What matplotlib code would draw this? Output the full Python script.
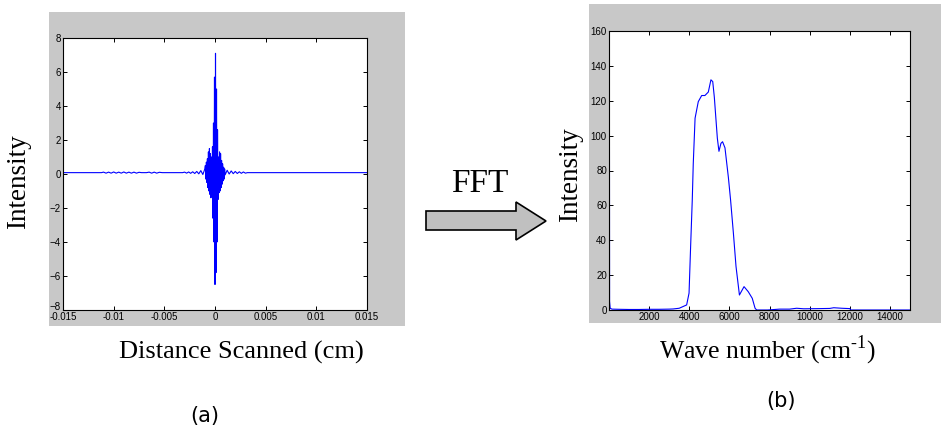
import numpy as np
import matplotlib.pyplot as plt
from matplotlib.patches import Rectangle, Polygon

# interferogram, x in units of 1e-4 cm
scan_x = [-150, -112,
          -110, -107.5, -105, -102.5, -100, -97.5, -95, -92.5, -90, -87.5, -85, -82.5,
          -80, -77.5, -75, -72.5, -70, -67.5, -65, -62.5, -60, -57.5, -55,
          -52, -32,
          -30, -28, -26, -24, -22, -20, -18, -16, -14, -12, -10,
          -9.5, -9.0, -8.5, -8.0, -7.5, -7.0, -6.5, -6.0, -5.5, -5.0, -4.5, -4.0, -3.5,
          -3.0, -2.5, -2.0, -1.5, -1.0, -0.5, 0.0, 0.5, 1.0, 1.5, 2.0, 2.5, 3.0, 3.5,
          4.0, 4.5, 5.0, 5.5, 6.0, 6.5, 7.0, 7.5, 8.0, 8.5, 9.0, 9.5,
          10, 12, 14, 16, 18, 20, 22, 24, 26, 28, 30,
          32, 150]
scan_y = [0.08, 0.08,
          0.11, 0.05, 0.11, 0.05, 0.12, 0.05, 0.11, 0.05, 0.12, 0.05, 0.11, 0.05,
          0.11, 0.05, 0.10, 0.08, 0.08, 0.08, 0.11, 0.05, 0.11, 0.05, 0.10,
          0.08, 0.08,
          0.11, 0.05, 0.12, 0.04, 0.13, 0.03, 0.15, 0.01, 0.2, -0.03, 0.3,
          0.5, -0.3, 0.7, -0.5, 0.9, -0.8, 1.3, -1.0, 1.5, -1.2, 1.2, -1.4, 1.0,
          -1.3, 1.6, -2.6, 3.0, -4.0, 5.7, -6.5, 7.1, -5.8, 5.0, -4.0, 2.6, -1.5, 1.0,
          -1.1, 1.3, -1.0, 1.2, -0.8, 0.8, -0.6, 0.6, -0.4, 0.4, -0.3, 0.3,
          -0.05, 0.22, 0.0, 0.18, 0.02, 0.15, 0.03, 0.13, 0.04, 0.12, 0.05,
          0.08, 0.08]
scan_ticks = [-0.015, -0.01, -0.005, 0, 0.005, 0.01, 0.015]
scan_tick_labels = ["-0.015", "-0.01", "-0.005", "0", "0.005", "0.01", "0.015"]
scan_yticks = [-8, -6, -4, -2, 0, 2, 4, 6, 8]

# spectrum
wavenumber = [1, 30, 60, 150, 500, 1000, 1500, 2000, 2500, 3000, 3200, 3500, 3870,
              3990, 4070, 4150, 4200, 4290, 4450, 4620, 4780, 4950, 5080, 5170,
              5250, 5320, 5400, 5480, 5580, 5660, 5780, 5950, 6060, 6200, 6330,
              6500, 6730, 6940, 7140, 7280, 7360, 7900, 8500, 9000, 9350, 9700,
              10500, 11000, 11200, 11600, 12000, 12050, 15000]
intensity = [400, 5, 1.0, 0.5, 0.4, 0.3, 0.3, 0.4, 0.4, 0.5, 0.6, 1.0, 2.9,
             9.7, 37, 63, 84, 110, 119.5, 123, 123, 125, 132, 131,
             122, 111, 98.5, 91, 95.6, 96.5, 93, 76, 63, 44, 25,
             8.6, 13.4, 10.5, 6.7, 1, 0, 0, 0.5, 0.5, 1.0, 0.7,
             0.8, 0.9, 1.3, 1.0, 0.8, 0, 0]
wn_ticks = [2000, 4000, 6000, 8000, 10000, 12000, 14000]
int_ticks = [0, 20, 40, 60, 80, 100, 120, 140, 160]

W, H = 941, 429
GRAY = "#c8c8c8"
BLUE = "#0000ff"
SERIF = "Liberation Serif"

plt.rcParams['font.family'] = ['Liberation Sans Narrow', 'Liberation Sans', 'DejaVu Sans']


def box(x0, y0, x1, y1):
    return [x0 / W, 1 - y1 / H, (x1 - x0) / W, (y1 - y0) / H]


def pt(x, y):
    return (x / W, 1 - y / H)


def style_axes(ax):
    ax.tick_params(direction='in', length=3, width=0.7, top=True, right=True,
                   labelsize=7, pad=1.5, colors='black')
    for s in ax.spines.values():
        s.set_linewidth(0.8)
        s.set_color('black')


fig = plt.figure(figsize=(W / 100, H / 100), dpi=100)

# gray panels behind each plot
for x0, y0, x1, y1 in [(49, 12, 405, 326), (589, 4, 941, 323)]:
    b = box(x0, y0, x1, y1)
    fig.add_artist(Rectangle((b[0], b[1]), b[2], b[3], transform=fig.transFigure,
                             facecolor=GRAY, edgecolor='none', zorder=-1))

ax1 = fig.add_axes(box(63, 38, 367, 310))
ax1.plot(np.array(scan_x) * 1e-4, scan_y, color=BLUE, lw=0.8)
ax1.set_xlim(-0.015, 0.015)
ax1.set_ylim(-8, 8)
ax1.set_xticks(scan_ticks)
ax1.set_xticklabels(scan_tick_labels)
ax1.set_yticks(scan_yticks)
style_axes(ax1)
# lift the bottom "-8" a bit so it sits above the first x label
ax1.get_yticklabels()[0].set_va('baseline')

ax2 = fig.add_axes(box(609, 31, 910, 310))
ax2.plot(wavenumber, intensity, color=BLUE, lw=0.8)
ax2.set_xlim(1, 15000)
ax2.set_ylim(0, 160)
ax2.set_xticks(wn_ticks)
ax2.set_yticks(int_ticks)
style_axes(ax2)

# FFT arrow
arrow_px = [(426, 211), (516, 211), (516, 202), (546, 221), (516, 240), (516, 230), (426, 230)]
fig.add_artist(Polygon([pt(x, y) for x, y in arrow_px], closed=True, transform=fig.transFigure,
                       facecolor="#c0c0c0", edgecolor='black', lw=1.2))
fig.text(*pt(480, 184), "FFT", family=SERIF, fontsize=24, ha='center', va='center')

fig.text(*pt(19, 182), "Intensity", family=SERIF, fontsize=19.5, rotation=90,
         ha='center', va='center')
fig.text(*pt(571, 175), "Intensity", family=SERIF, fontsize=19.5, rotation=90,
         ha='center', va='center')
fig.text(*pt(241, 352), "Distance Scanned (cm)", family=SERIF, fontsize=19,
         ha='center', va='center')
fig.text(*pt(768, 350), "Wave number (cm$^{\\mathregular{\u20101}}$)", family=SERIF,
         fontsize=18.5, ha='center', va='center')
fig.text(*pt(205, 416), "(a)", family='DejaVu Sans', fontsize=15, ha='center', va='center')
fig.text(*pt(781, 401), "(b)", family='DejaVu Sans', fontsize=15, ha='center', va='center')

fig.savefig("out.png", dpi=100, facecolor='white')
